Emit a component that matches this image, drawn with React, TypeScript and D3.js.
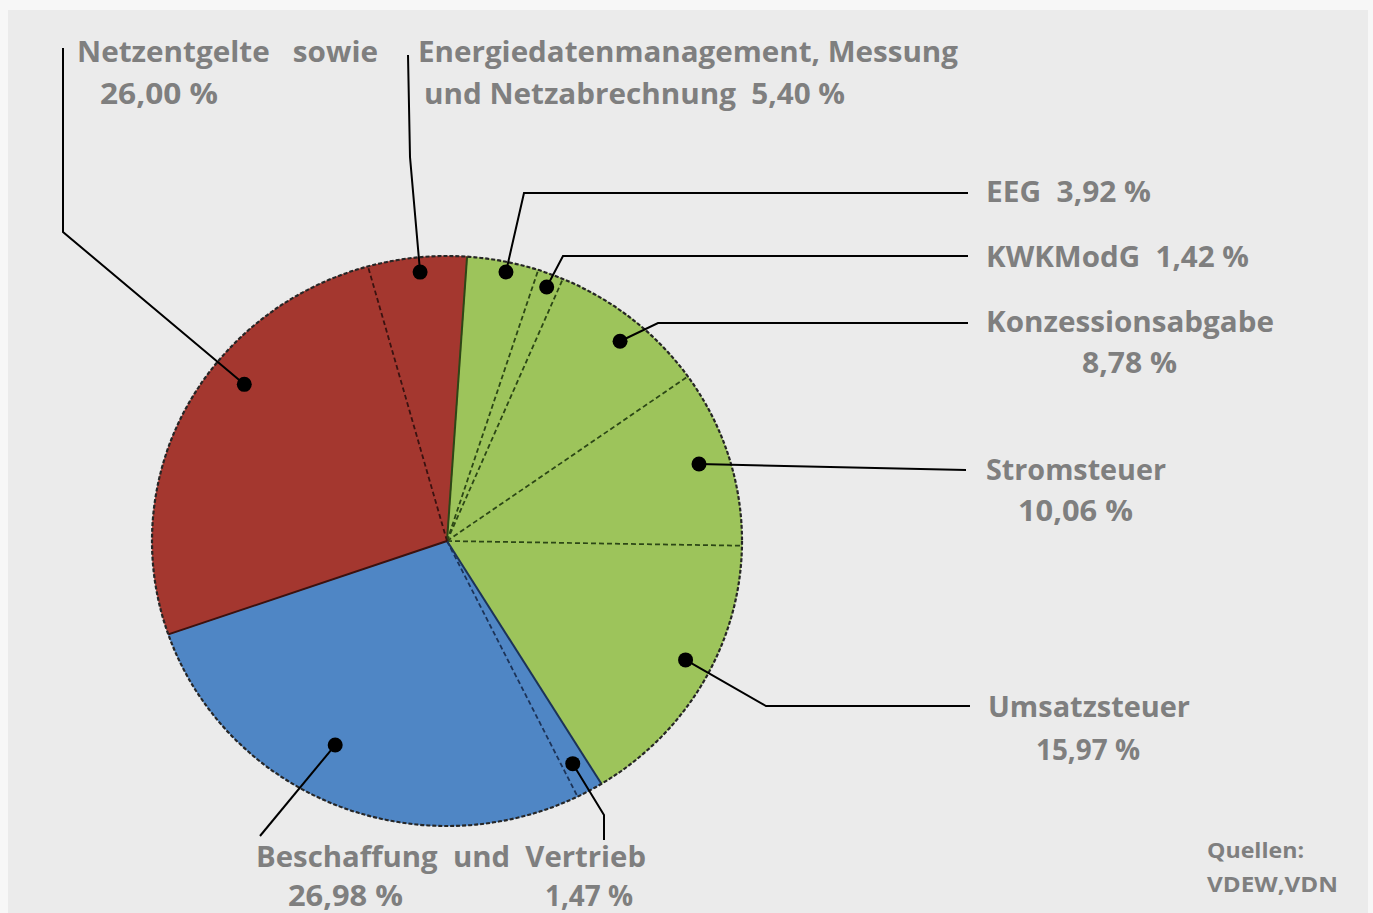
import React, { useEffect, useRef } from 'react';
import * as d3 from 'd3';

// Anteile am Strompreis (im Uhrzeigersinn, beginnend oben rechts)
const categories = [
  'EEG',
  'KWKModG',
  'Konzessionsabgabe',
  'Stromsteuer',
  'Umsatzsteuer',
  'Vertrieb',
  'Beschaffung',
  'Netzentgelte',
  'Energiedatenmanagement',
];
const shares = [3.92, 1.42, 8.78, 10.06, 15.97, 1.47, 26.98, 26.0, 5.4];
const groups = ['staat', 'staat', 'staat', 'staat', 'staat', 'markt', 'markt', 'netz', 'netz'];

// Beschriftungen (Zeilen) je Segment
const labelLines = [
  ['EEG  3,92 %'],
  ['KWKModG  1,42 %'],
  ['Konzessionsabgabe', '8,78 %'],
  ['Stromsteuer', '10,06 %'],
  ['Umsatzsteuer', '15,97 %'],
  [],
  [],
  ['Netzentgelte   sowie', '26,00 %'],
  ['Energiedatenmanagement, Messung', 'und Netzabrechnung  5,40 %'],
];
const bottomLines = ['Beschaffung  und  Vertrieb', '26,98 %', '1,47 %'];
const sourceLines = ['Quellen:', 'VDEW,VDN'];

const W = 1373;
const H = 913;
const cx = 447;
const cy = 541;
const rx = 295;
const ry = 285;
const startDeg = 3.9;

const fillColor: Record<string, string> = { staat: '#9dc45b', markt: '#4f86c5', netz: '#a4372f' };
const edgeColor: Record<string, string> = { staat: '#2c4716', markt: '#1c3358', netz: '#3a1210' };
const textColor = '#7f7f7f';

// Lage der Marker (Winkelversatz in Grad, Radiusfaktor) und Knickpunkte der Führungslinien
const markerLayout = [
  { da: 1, rf: 0.965, path: [[524, 193], [968, 193]] },
  { da: 0.2, rf: 0.953, path: [[563, 256], [968, 256]] },
  { da: 1, rf: 0.914, path: [[658, 323], [968, 323]] },
  { da: -0.4, rf: 0.896, path: [[966, 470]] },
  { da: -2.4, rf: 0.91, path: [[766, 706], [970, 706]] },
  { da: 0.3, rf: 0.89, path: [[604, 815], [604, 840]] },
  { da: 5.6, rf: 0.81, path: [[260, 836]] },
  { da: 11, rf: 0.88, path: [[63, 232], [63, 48]] },
  { da: 0.3, rf: 0.948, path: [[410, 157], [408, 55]] },
];

// Textpositionen [x, Grundlinie, Breite]
const labelPos: number[][][] = [
  [[986, 202, 165]],
  [[986, 267, 263]],
  [[986, 332, 288], [1082, 373, 95]],
  [[986, 480, 180], [1018, 521, 115]],
  [[988, 717, 202], [1036, 760, 104]],
  [],
  [],
  [[77, 62, 301], [100, 104, 118]],
  [[418, 62, 540], [424, 104, 421]],
];
const bottomPos = [[256, 867, 390], [288, 906, 115], [545, 906, 88]];
const sourcePos = [[1207, 858, 97], [1207, 892, 131]];

const App: React.FC = () => {
  const ref = useRef<SVGSVGElement>(null);

  useEffect(() => {
    if (!ref.current) return;
    const svg = d3.select(ref.current);
    svg.selectAll('*').remove();

    svg.append('rect').attr('width', W).attr('height', H).attr('fill', '#f7f7f7');
    svg.append('rect').attr('x', 8).attr('y', 10).attr('width', 1360).attr('height', H - 10).attr('fill', '#ebebeb');

    const data = categories.map((c, i) => ({ name: c, value: shares[i], group: groups[i], idx: i }));
    const start = (startDeg * Math.PI) / 180;
    const pie = d3
      .pie<any>()
      .sort(null)
      .value((d) => d.value)
      .startAngle(start)
      .endAngle(start + 2 * Math.PI);
    const arcs = pie(data);
    const arc = d3.arc<any>().innerRadius(0).outerRadius(rx);

    const g = svg.append('g').attr('transform', `translate(${cx},${cy}) scale(1,${ry / rx})`);
    g.selectAll('path.slice')
      .data(arcs)
      .join('path')
      .attr('class', 'slice')
      .attr('d', arc)
      .attr('fill', (d) => fillColor[d.data.group])
      .attr('stroke', (d) => fillColor[d.data.group])
      .attr('stroke-width', 0.8);

    // Segmentgrenzen
    arcs.forEach((d, i) => {
      const prev = arcs[(i + arcs.length - 1) % arcs.length];
      const same = prev.data.group === d.data.group;
      const a = d.startAngle;
      g.append('line')
        .attr('x1', 0)
        .attr('y1', 0)
        .attr('x2', rx * Math.sin(a))
        .attr('y2', -rx * Math.cos(a))
        .attr('stroke', edgeColor[d.data.group])
        .attr('stroke-width', same ? 1.8 : 2)
        .attr('stroke-dasharray', same ? '5 3' : null);
    });

    // Rand
    g.append('circle')
      .attr('r', rx)
      .attr('fill', 'none')
      .attr('stroke', '#262626')
      .attr('stroke-width', 2.2)
      .attr('stroke-dasharray', '4 2');

    // Marker und Führungslinien
    arcs.forEach((d, i) => {
      const m = markerLayout[i];
      const mid = (d.startAngle + d.endAngle) / 2 + (m.da * Math.PI) / 180;
      const px = cx + m.rf * rx * Math.sin(mid);
      const py = cy - m.rf * ry * Math.cos(mid);
      const pts = [[px, py], ...m.path];
      svg
        .append('path')
        .attr('d', d3.line()(pts as [number, number][]))
        .attr('fill', 'none')
        .attr('stroke', '#000')
        .attr('stroke-width', 2);
      svg.append('circle').attr('cx', px).attr('cy', py).attr('r', 7.5).attr('fill', '#000');
    });

    const addText = (txt: string, p: number[], size: number) => {
      svg
        .append('text')
        .attr('x', p[0])
        .attr('y', p[1])
        .attr('font-family', '"Open Sans", "DejaVu Sans", sans-serif')
        .attr('font-weight', 700)
        .attr('font-size', size)
        .attr('fill', textColor)
        .attr('textLength', p[2])
        .attr('lengthAdjust', 'spacingAndGlyphs')
        .attr('xml:space', 'preserve')
        .style('white-space', 'pre')
        .text(txt);
    };

    labelLines.forEach((lines, i) => lines.forEach((t, j) => addText(t, labelPos[i][j], 29)));
    bottomLines.forEach((t, j) => addText(t, bottomPos[j], 29));
    sourceLines.forEach((t, j) => addText(t, sourcePos[j], 22));
  }, []);

  return (
    <svg
      ref={ref}
      width={W}
      height={H}
      style={{ position: 'absolute', left: 0, top: 0, display: 'block' }}
    />
  );
};

export default App;
